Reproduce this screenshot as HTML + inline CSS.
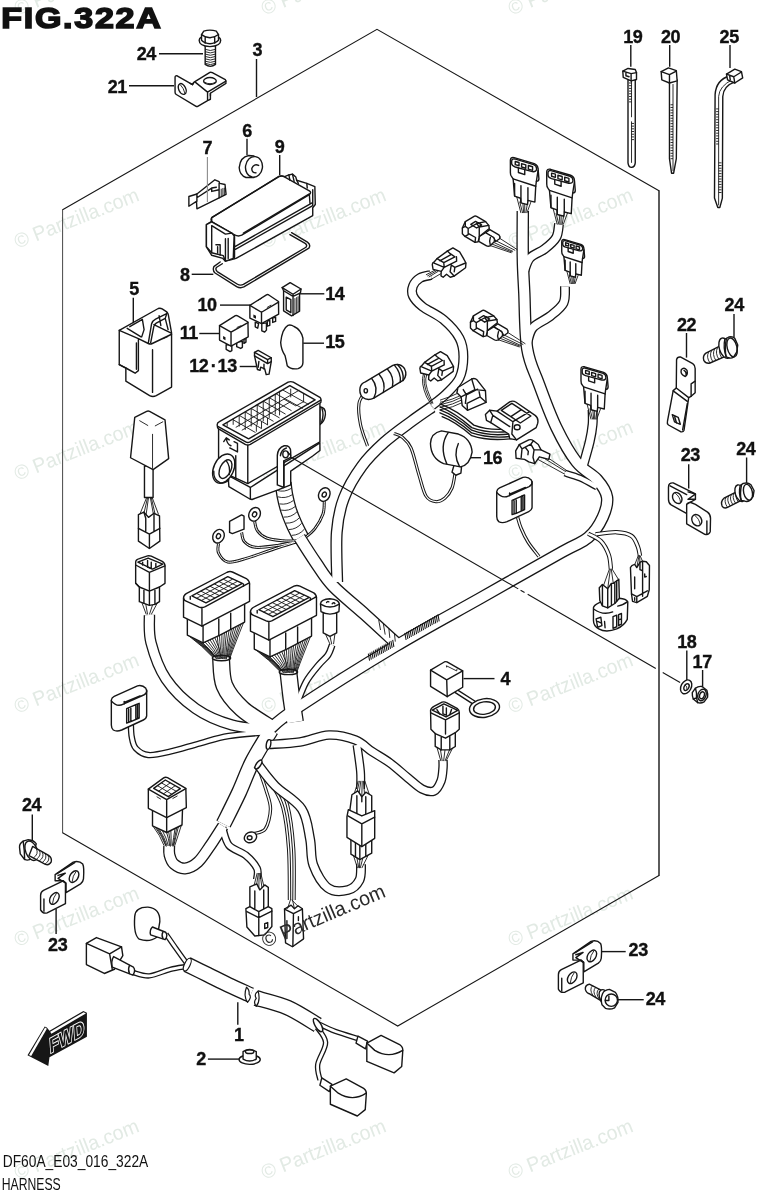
<!DOCTYPE html>
<html lang="en">
<head>
<meta charset="utf-8">
<title>FIG.322A HARNESS</title>
<style>
html,body{margin:0;padding:0;background:#fff;}
body{width:757px;height:1200px;overflow:hidden;position:relative;font-family:"Liberation Sans",sans-serif;}
svg{position:absolute;left:0;top:0;display:block;will-change:transform;}
.l{stroke:#161616;stroke-width:1.4;fill:none;stroke-linecap:butt;}
.t{stroke:#161616;stroke-width:.9;fill:none;}
.p{stroke:#161616;stroke-width:1.4;fill:#fff;stroke-linejoin:round;stroke-linecap:round;}
.o{stroke:#161616;stroke-width:1.4;fill:none;stroke-linejoin:round;stroke-linecap:round;}
.w{stroke:#161616;stroke-width:1.4;fill:none;stroke-linecap:round;stroke-linejoin:round;}
.k{fill:#161616;stroke:none;}
.wo{stroke:#161616;fill:none;stroke-linecap:butt;stroke-linejoin:round;vector-effect:non-scaling-stroke;}
.wi{stroke:#fff;fill:none;stroke-linecap:butt;stroke-linejoin:round;vector-effect:non-scaling-stroke;}
.l,.t,.p,.o,.w{vector-effect:non-scaling-stroke;}
.n{font-family:"Liberation Sans",sans-serif;font-weight:700;font-size:18px;letter-spacing:-.45px;fill:#111;stroke:#111;stroke-width:.35;}
.wm{font-family:"Liberation Sans",sans-serif;font-size:20.3px;fill:#e2eae4;}
.wmd{font-family:"Liberation Sans",sans-serif;font-size:20.3px;fill:#2a2a2a;}
.ft{font-family:"Liberation Sans",sans-serif;font-size:15.6px;fill:#111;}
.fig{font-family:"Liberation Sans",sans-serif;font-weight:700;font-size:29.6px;letter-spacing:1.5px;fill:#111;stroke:#111;stroke-width:1.6;stroke-linejoin:miter;}
</style>
</head>
<body>
<svg width="757" height="1200" viewBox="0 0 757 1200">
<rect x="0" y="0" width="757" height="1200" fill="#fff"/>
<g id="watermarks">
<text class="wm" transform="translate(17.6,15.4) rotate(-21.5)" textLength="132" lengthAdjust="spacingAndGlyphs">© Partzilla.com</text>
<text class="wm" transform="translate(264.6,15.4) rotate(-21.5)" textLength="132" lengthAdjust="spacingAndGlyphs">© Partzilla.com</text>
<text class="wm" transform="translate(511.6,15.4) rotate(-21.5)" textLength="132" lengthAdjust="spacingAndGlyphs">© Partzilla.com</text>
<text class="wm" transform="translate(17.6,248.7) rotate(-21.5)" textLength="132" lengthAdjust="spacingAndGlyphs">© Partzilla.com</text>
<text class="wm" transform="translate(264.6,248.7) rotate(-21.5)" textLength="132" lengthAdjust="spacingAndGlyphs">© Partzilla.com</text>
<text class="wm" transform="translate(511.6,248.7) rotate(-21.5)" textLength="132" lengthAdjust="spacingAndGlyphs">© Partzilla.com</text>
<text class="wm" transform="translate(17.6,480.7) rotate(-21.5)" textLength="132" lengthAdjust="spacingAndGlyphs">© Partzilla.com</text>
<text class="wm" transform="translate(264.6,480.7) rotate(-21.5)" textLength="132" lengthAdjust="spacingAndGlyphs">© Partzilla.com</text>
<text class="wm" transform="translate(511.6,480.7) rotate(-21.5)" textLength="132" lengthAdjust="spacingAndGlyphs">© Partzilla.com</text>
<text class="wm" transform="translate(17.6,713.7) rotate(-21.5)" textLength="132" lengthAdjust="spacingAndGlyphs">© Partzilla.com</text>
<text class="wm" transform="translate(264.6,713.7) rotate(-21.5)" textLength="132" lengthAdjust="spacingAndGlyphs">© Partzilla.com</text>
<text class="wm" transform="translate(511.6,713.7) rotate(-21.5)" textLength="132" lengthAdjust="spacingAndGlyphs">© Partzilla.com</text>
<text class="wm" transform="translate(17.6,947.0) rotate(-21.5)" textLength="132" lengthAdjust="spacingAndGlyphs">© Partzilla.com</text>
<text class="wm" transform="translate(511.6,947.0) rotate(-21.5)" textLength="132" lengthAdjust="spacingAndGlyphs">© Partzilla.com</text>
<text class="wm" transform="translate(17.6,1179.7) rotate(-21.5)" textLength="132" lengthAdjust="spacingAndGlyphs">© Partzilla.com</text>
<text class="wm" transform="translate(264.6,1179.7) rotate(-21.5)" textLength="132" lengthAdjust="spacingAndGlyphs">© Partzilla.com</text>
<text class="wm" transform="translate(511.6,1179.7) rotate(-21.5)" textLength="132" lengthAdjust="spacingAndGlyphs">© Partzilla.com</text>
</g>
<g id="frame">
<path class="l" style="stroke-width:1.1" d="M62.6 209.8 L377 29.3 L659 190.7 M62.6 832.7 L397.7 1026 L659 875.5"/>
<path class="l" style="stroke-width:0.8" d="M62.6 209.3 L62.6 833.2"/>
<path class="l" style="stroke-width:1.4" d="M659 190.2 L659 876"/>
</g>
<g id="bolt24a-bracket21" transform="translate(160,20) scale(0.15852)">
<!-- bolt shaft -->
<path class="p" d="M285 160 L285 280 Q318 305 350 280 L350 160 Z"/>
<path class="t" d="M285 185 Q318 200 350 185 M285 200 Q318 215 350 200 M285 215 Q318 230 350 215 M285 230 Q318 245 350 230 M285 245 Q318 260 350 245 M285 260 Q318 275 350 260 M285 273 Q318 290 350 273"/>
<!-- flange -->
<path class="p" d="M247 128 Q247 165 315 168 Q383 165 383 128 Q383 100 315 98 Q247 100 247 128 Z"/>
<!-- hex head -->
<path class="p" d="M262 92 L276 70 Q315 58 355 70 L369 92 L369 128 Q350 148 315 150 Q280 148 262 128 Z"/>
<path class="o" d="M262 92 Q280 108 315 112 Q350 108 369 92 M285 108 L285 146 M345 108 L345 146"/>
<!-- bracket 21 -->
<path class="p" d="M95 362 Q95 350 108 352 L205 408 L215 392 L315 330 Q322 328 330 332 L412 376 Q417 380 416 400 L318 462 L318 500 L300 508 L238 545 Q232 548 225 543 L103 470 Q95 465 95 455 Z"/>
<path class="o" d="M205 408 L212 395 M222 392 L300 455 L300 505 M300 455 L416 385 M318 462 L318 478 M205 408 L190 400"/>
<ellipse class="o" cx="140" cy="435" rx="22" ry="36" transform="rotate(-25 140 435)"/>
<path class="t" d="M128 408 Q150 430 158 465"/>
<ellipse class="o" cx="315" cy="385" rx="40" ry="22"/>
<path class="t" d="M280 392 Q315 412 352 392"/>
</g>
<g id="p6-7-8-9" transform="translate(180,120) scale(0.21136)">
<!-- gasket 8 -->
<path class="o" d="M528 533 L603 578 Q620 590 610 606 L302 790 Q285 798 268 788 L166 724 Q153 712 160 694 L190 672"/>
<path class="o" d="M520 542 L592 584 Q604 592 596 602 L300 778 Q285 785 272 777 L176 717 Q166 708 172 698 L200 680"/>
<!-- box 9 -->
<path class="p" d="M150 462 L468 268 Q480 262 495 268 L515 260 L532 256 L548 270 L552 285 L600 300 L638 315 L640 400 L628 415 L628 452 L265 655 L240 662 L215 668 L203 655 L150 640 L125 600 L125 495 L150 480 Z"/>
<path class="o" d="M150 462 L470 266 Q480 262 492 268 L612 335 Q624 343 612 353 L292 545 Q275 553 258 543 L152 482 Q143 472 150 462 Z"/>
<path class="o" d="M258 545 L258 600 L625 392 M262 612 L628 405 M612 353 L615 395 M628 330 L628 405 M258 600 L258 655 M300 535 L612 350"/>
<path class="o" d="M515 260 L520 285 M532 256 L540 290 M552 285 L560 300 M600 300 L602 322"/>
<path class="p" d="M125 495 L150 482 L245 535 L256 548 L252 655 L215 668 L205 642 L150 628 L125 600 Z"/>
<path class="o" d="M150 500 L150 628 M215 562 L215 662 M150 500 L215 540 L245 535 M170 590 L190 590 L190 640 M178 600 L178 630 M228 560 L228 655"/>
<!-- grommet 6 -->
<path class="p" d="M325 168 Q285 175 280 225 Q282 262 312 272 L350 272 L350 170 Z"/>
<ellipse class="p" cx="350" cy="222" rx="40" ry="49" transform="rotate(8 350 222)"/>
<path class="o" d="M372 215 Q350 205 340 228 Q338 250 360 250"/>
<!-- clip 7 -->
<path class="p" d="M42 362 L80 350 L165 283 L185 292 L188 300 L213 305 L218 352 L185 368 L80 420 L78 385 L42 408 Z"/>
<path class="o" d="M80 350 L80 385 M80 368 L150 322 L150 338 L185 330 L185 368 M150 322 L172 318 M185 300 L185 330"/>
<path class="t" d="M195 325 L195 362 M203 322 L203 358 M210 320 L210 355"/>
</g>
<g id="p5" transform="translate(110,290) scale(0.1321)">
<path class="p" d="M70 305 L365 140 Q380 134 395 143 L432 168 Q440 175 442 190 L466 325 L466 735 L350 800 Q325 812 300 800 L120 690 L120 590 L70 565 Z"/>
<path class="o" d="M70 305 L215 368 L290 405 Q305 412 320 405 L466 335 M215 368 L215 610 L190 630 L70 565 M200 400 L200 600 M322 452 L322 775 M190 630 L120 590"/>
<path class="o" d="M130 290 L235 355 M150 278 L245 222 L258 300 L240 355 M290 402 L315 255 Q322 232 345 220 L425 180 M308 398 L332 275 Q336 258 350 250 L418 215 L440 300 M332 262 L460 325 M418 215 L432 172 M372 195 L385 270"/>
<path class="t" d="M400 370 L440 352"/>
</g>
<g id="p11" transform="translate(170,280) scale(0.1321)">
<path class="p" d="M425 490 L425 525 L455 542 L468 535 L468 490 Z M505 470 L505 505 L535 518 L548 510 L548 465 Z M560 445 L560 480 L575 470 L575 440 Z"/>
<path class="p" d="M375 345 L495 270 Q503 266 512 272 L590 318 L592 430 L462 500 L375 455 Z"/>
<path class="o" d="M375 345 L462 395 L590 322 M462 395 L462 498"/>
<rect class="k" x="402" y="425" width="18" height="22" transform="skewY(28) translate(0,-215)"/>
<path class="t" d="M505 360 L540 345"/>
</g>
<g id="p10-14-15-1213" transform="translate(240,280) scale(0.14531)">
<path class="p" d="M105 290 L105 322 L122 332 L128 300 Z M150 300 L150 350 L170 358 L182 345 L182 295 Z M188 282 L188 318 L205 312 L205 278 Z M225 262 L225 292 L245 285 L245 255 Z"/>
<path class="p" d="M68 175 L182 102 Q190 98 198 103 L265 148 L266 235 L148 300 L68 262 Z"/>
<path class="o" d="M68 175 L148 222 L265 152 M148 222 L148 298"/>
<path class="k" d="M92 238 L110 246 L110 266 L92 258 Z"/>
<path class="t" d="M125 140 L150 125 M185 190 L215 172"/>
<!-- 14 -->
<path class="p" d="M290 52 L345 18 L420 62 L416 88 L410 92 L410 215 L355 247 L300 212 L300 74 Z"/>
<path class="o" d="M290 52 L365 98 L420 62 M365 98 L365 245 M300 74 L365 112 L410 92 M318 118 L318 205 L350 225 L350 135 Z"/>
<path class="t" d="M378 125 L378 235 M390 118 L390 228 M400 112 L400 220"/>
<!-- 15 -->
<path class="p" d="M330 312 Q290 335 280 430 Q283 480 310 520 Q320 560 325 590 Q350 618 400 610 Q432 600 433 570 L433 400 Q420 342 372 320 Q350 306 330 312 Z"/>
<!-- 12.13 -->
<path class="p" d="M100 498 L125 485 L215 535 L215 562 L200 648 L180 650 L170 612 L142 600 L138 622 L120 616 L100 522 Z"/>
<path class="o" d="M100 498 L190 548 L215 535 M190 548 L190 575 L100 522 M190 575 L215 562 M130 560 L125 600 M165 580 L165 612"/>
</g>
<g id="eyelets">
<path class="wo" style="stroke-width:17" d="M283.2 483.0 C283.5 485.2 284.1 491.5 285.0 496.0 C285.9 500.5 287.0 505.3 288.5 510.0 C290.0 514.7 291.9 519.3 294.0 524.0 C296.1 528.7 299.8 535.7 301.0 538.0"/><path class="wi" style="stroke-width:14.4" d="M283.2 483.0 C283.5 485.2 284.1 491.5 285.0 496.0 C285.9 500.5 287.0 505.3 288.5 510.0 C290.0 514.7 291.9 519.3 294.0 524.0 C296.1 528.7 299.8 535.7 301.0 538.0"/>
<path class="t" d="M291.2 488.4 Q284.5 492.6 277.0 490.4 M292.1 494.8 Q285.4 499.0 277.8 496.8 M293.5 500.4 Q287.3 505.2 279.5 503.9 M295.1 506.6 Q288.9 511.5 281.1 510.1 M297.0 511.8 Q291.4 517.5 283.6 517.1 M299.3 517.9 Q293.8 523.5 285.9 523.1 M301.7 523.2 Q296.6 529.3 288.8 529.6 M304.5 529.0 Q299.5 535.1 291.7 535.4"/>
<path class="wo" style="stroke-width:3" d="M218.5 543.6 C218.5 545.1 217.0 549.7 218.5 552.8 C220.0 555.9 223.1 561.1 227.7 562.0 C232.3 562.9 238.5 560.6 246.2 558.4 C253.9 556.2 265.5 551.8 274.0 549.0 C282.5 546.2 293.2 542.9 297.0 541.7"/>
<path class="wo" style="stroke-width:3" d="M241.6 532.5 C242.1 534.0 242.1 539.2 244.4 541.7 C246.7 544.2 249.9 546.7 255.5 547.3 C261.1 547.9 270.8 546.4 277.7 545.4 C284.6 544.4 293.8 542.1 297.0 541.4"/>
<path class="wo" style="stroke-width:3" d="M254.6 521.4 C255.1 522.9 255.3 527.8 257.3 530.6 C259.3 533.4 262.3 536.3 266.6 538.0 C270.9 539.7 278.1 540.3 283.2 540.8 C288.3 541.3 294.7 540.8 297.0 540.8"/>
<path class="wo" style="stroke-width:3" d="M324.3 501.0 C324.1 503.2 324.6 509.4 323.0 514.0 C321.4 518.6 317.9 524.7 314.7 528.8 C311.5 532.9 305.8 536.9 304.0 538.5"/>
<path class="wi" style="stroke-width:1" d="M218.5 543.6 C218.5 545.1 217.0 549.7 218.5 552.8 C220.0 555.9 223.1 561.1 227.7 562.0 C232.3 562.9 238.5 560.6 246.2 558.4 C253.9 556.2 265.5 551.8 274.0 549.0 C282.5 546.2 293.2 542.9 297.0 541.7"/>
<path class="wi" style="stroke-width:1" d="M241.6 532.5 C242.1 534.0 242.1 539.2 244.4 541.7 C246.7 544.2 249.9 546.7 255.5 547.3 C261.1 547.9 270.8 546.4 277.7 545.4 C284.6 544.4 293.8 542.1 297.0 541.4"/>
<path class="wi" style="stroke-width:1" d="M254.6 521.4 C255.1 522.9 255.3 527.8 257.3 530.6 C259.3 533.4 262.3 536.3 266.6 538.0 C270.9 539.7 278.1 540.3 283.2 540.8 C288.3 541.3 294.7 540.8 297.0 540.8"/>
<path class="wi" style="stroke-width:1" d="M324.3 501.0 C324.1 503.2 324.6 509.4 323.0 514.0 C321.4 518.6 317.9 524.7 314.7 528.8 C311.5 532.9 305.8 536.9 304.0 538.5"/>
<g transform="translate(200,440) scale(0.18494)">
<ellipse class="p" cx="100" cy="520" rx="30" ry="38" transform="rotate(25 100 520)"/>
<ellipse class="o" cx="100" cy="520" rx="11" ry="14" transform="rotate(25 100 520)"/>
<ellipse class="p" cx="295" cy="402" rx="30" ry="38" transform="rotate(25 295 402)"/>
<ellipse class="o" cx="295" cy="402" rx="11" ry="14" transform="rotate(25 295 402)"/>
<ellipse class="p" cx="672" cy="295" rx="30" ry="38" transform="rotate(25 672 295)"/>
<ellipse class="o" cx="672" cy="295" rx="11" ry="14" transform="rotate(25 672 295)"/>
<path class="p" d="M160 440 L225 405 L238 412 L238 482 L175 506 L160 500 Z"/>
<path class="p" d="M535 548 L570 530 L590 560 L552 580 Z" style="stroke-width:1"/>
</g>
</g>
<g id="fusebox" transform="translate(210,375) scale(0.17173)">
<!-- right bulge -->
<path class="p" d="M640 185 Q675 190 672 230 Q668 270 640 290 Z"/>
<path class="o" d="M652 195 Q665 230 650 275"/>
<!-- base -->
<path class="p" d="M105 585 L235 655 L640 395 L640 440 L600 470 L470 560 L470 640 L400 668 L245 725 L232 722 L110 650 Z"/>
<!-- body -->
<path class="p" d="M50 300 L50 515 L105 580 L220 632 L640 390 L640 150 Z"/>
<path class="o" d="M220 405 L220 630 M235 655 L235 720 M105 585 L60 600"/>
<path class="o" d="M150 470 L150 600"/>
<ellipse class="p" cx="80" cy="545" rx="58" ry="90" transform="rotate(25 80 545)"/>
<ellipse class="p" cx="90" cy="548" rx="32" ry="58" transform="rotate(25 90 548)"/>
<path class="o" d="M22 560 Q18 610 60 628 Q90 632 110 610 M95 500 Q120 530 112 580"/>
<!-- rim -->
<path class="p" d="M42 292 Q40 280 55 272 L455 42 Q470 35 485 42 L640 130 Q650 140 645 160 L235 404 Q220 412 205 404 L50 314 Q42 308 42 292 Z"/>
<path class="o" d="M48 300 L208 390 Q220 397 233 390 L645 146"/>
<path class="o" d="M75 290 L465 62 L612 145 L225 372 Z"/>
<!-- grid -->
<path class="t" d="M130 258 L265 335 M170 235 L300 312 M205 215 L335 290 M240 195 L370 270 M275 175 L405 250 M310 152 L440 228 M345 132 L475 208 M385 110 L540 195 M425 88 L575 172 M150 305 L520 88 M185 322 L470 155 M100 275 L100 300 M135 255 L135 290 M170 235 L170 300 M205 215 L205 320 M240 195 L240 300 M275 175 L275 290 M310 152 L310 270 M345 132 L345 250 M380 112 L380 230 M405 92 L405 235 M470 80 L470 130 M545 105 L545 160 M430 140 L500 180 L545 155 M270 290 L270 330 M300 270 L300 312 M335 250 L335 292"/>
<!-- arrow mark -->
<path class="o" d="M80 388 L95 366 L112 378 M95 368 Q98 402 122 412 M115 425 L160 448 L160 398 L140 388"/>
<!-- clip strap -->
<path class="p" d="M392 640 L392 468 Q395 425 432 412 Q470 408 470 448 L470 480 L430 500 L430 655 Z"/>
<path class="o" d="M430 500 L430 650 M410 470 Q415 435 445 425"/>
<ellipse class="p" cx="440" cy="462" rx="16" ry="20"/>
<path class="o" d="M452 450 L470 468"/>
</g>
<g id="harness">
<path class="wo" style="stroke-width:10" d="M431.0 275.0 C429.2 275.5 423.0 276.2 420.0 278.0 C417.0 279.8 414.2 283.0 413.0 286.0 C411.8 289.0 411.4 292.6 413.0 296.0 C414.6 299.4 417.4 302.6 422.5 306.6 C427.6 310.6 437.4 314.5 443.6 319.8 C449.8 325.1 456.2 332.1 459.5 338.3 C462.8 344.5 463.4 350.2 463.4 356.8 C463.4 363.4 462.4 371.8 459.5 378.0 C456.6 384.2 450.8 389.2 446.2 393.8 C441.6 398.4 434.1 403.7 431.7 405.7"/>
<path class="wo" style="stroke-width:10" d="M559.0 224.0 C558.5 226.2 558.6 233.3 556.2 237.5 C553.8 241.7 549.0 245.6 544.6 249.0 C540.2 252.4 533.4 254.2 530.0 258.0 C526.6 261.8 525.0 269.7 524.0 272.0"/>
<path class="wo" style="stroke-width:10" d="M565.0 286.5 C564.8 289.2 565.9 298.1 563.5 303.0 C561.1 307.9 555.5 311.9 550.4 316.0 C545.3 320.1 536.8 323.3 533.0 327.6 C529.2 331.9 528.4 339.6 527.5 342.0"/>
<path class="wo" style="stroke-width:10" d="M592.6 410.0 C592.6 412.4 593.1 419.0 592.6 424.3 C592.1 429.6 591.3 434.8 589.7 441.7 C588.1 448.6 584.1 461.9 583.0 466.0"/>
<path class="wo" style="stroke-width:7" d="M564.7 473.0 C567.2 473.8 574.6 475.7 580.0 478.0 C585.4 480.3 594.2 485.5 597.0 487.0"/>
<path class="wo" style="stroke-width:12.5" d="M522.8 211.0 C522.8 218.8 522.5 244.4 522.8 258.0 C523.0 271.6 523.6 277.6 524.3 292.7 C525.0 307.8 524.8 333.5 527.2 348.7 C529.6 363.9 534.0 370.5 538.8 383.6 C543.6 396.7 549.9 414.1 556.2 427.2 C562.5 440.3 569.8 453.3 576.6 462.0 C583.4 470.7 591.9 473.7 597.0 479.5 C602.1 485.3 606.0 490.7 607.0 497.0 C608.0 503.3 605.8 510.5 602.7 517.3 C599.6 524.1 595.0 531.8 588.2 537.6 C581.4 543.4 580.0 541.9 562.0 552.0 C544.0 562.1 507.8 582.6 480.0 598.4 C452.2 614.1 425.7 628.1 395.0 646.5 C364.3 664.9 316.8 694.9 296.0 708.6 C275.2 722.4 274.3 725.6 270.0 729.0"/>
<path class="wo" style="stroke-width:12" d="M337.2 582.0 C337.1 573.7 335.7 546.0 336.8 532.0 C337.9 518.0 339.8 508.8 344.0 497.8 C348.2 486.8 355.3 475.2 362.0 466.0 C368.7 456.8 376.1 449.8 384.4 442.3 C392.7 434.8 404.1 426.9 412.0 421.0 C419.9 415.1 428.7 409.3 432.0 407.0"/>
<path class="wo" style="stroke-width:13" d="M299.5 537.5 C302.2 541.8 310.4 554.9 316.0 563.0 C321.6 571.1 324.8 577.4 333.0 586.0 C341.2 594.6 354.5 605.0 365.0 614.5 C375.5 624.0 390.8 638.2 396.0 643.0"/>
<path class="wo" style="stroke-width:11.5" d="M149.4 615.0 C149.7 619.6 148.2 631.9 151.0 642.6 C153.8 653.3 158.6 668.0 166.0 679.0 C173.4 690.0 184.7 700.9 195.7 708.6 C206.7 716.3 219.3 721.4 232.0 725.0 C244.7 728.6 265.3 729.2 272.0 730.0"/>
<path class="wo" style="stroke-width:18" d="M221.0 658.0 C221.6 662.6 220.9 677.1 224.4 685.5 C227.9 693.9 234.1 701.4 242.0 708.6 C249.9 715.9 267.0 725.6 272.0 729.0"/>
<path class="wo" style="stroke-width:18" d="M288.4 672.0 C288.9 676.5 290.4 690.4 291.5 698.7 C292.6 707.0 294.4 718.1 295.0 722.0"/>
<path class="wo" style="stroke-width:7" d="M332.2 645.0 C331.5 646.7 330.2 651.7 328.0 655.0 C325.8 658.3 322.4 660.5 318.7 665.0 C315.0 669.5 309.7 675.3 306.0 682.0 C302.3 688.7 298.0 701.2 296.4 705.0"/>
<path class="wo" style="stroke-width:6.4" d="M130.8 723.0 C131.0 725.3 130.9 732.5 131.7 736.7 C132.5 740.9 133.0 745.2 135.8 748.3 C138.6 751.3 142.6 754.4 148.3 755.0 C154.0 755.6 161.4 753.7 170.0 751.7 C178.6 749.8 190.2 745.9 200.0 743.3 C209.8 740.7 216.9 737.9 228.7 736.0 C240.5 734.1 263.9 732.7 271.0 732.0"/>
<path class="wo" style="stroke-width:16" d="M271.0 730.0 C267.9 735.3 257.5 751.6 252.2 762.0 C246.9 772.4 243.8 782.2 239.0 792.5 C234.2 802.8 226.1 818.8 223.5 824.0"/>
<path class="wo" style="stroke-width:12" d="M223.0 826.0 C220.8 829.3 214.2 840.0 210.0 846.0 C205.8 852.0 202.2 858.2 198.0 862.0 C193.8 865.8 189.0 868.2 185.0 868.5 C181.0 868.8 176.6 866.2 174.0 864.0 C171.4 861.8 170.3 858.0 169.5 855.0 C168.7 852.0 169.2 847.5 169.2 846.0"/>
<path class="wo" style="stroke-width:8" d="M222.5 828.0 C223.6 830.9 225.2 840.8 229.0 845.3 C232.8 849.8 240.9 851.4 245.6 855.2 C250.3 859.1 255.1 864.4 257.0 868.4 C258.9 872.4 257.0 877.2 257.0 879.0"/>
<path class="wi" style="stroke-width:7.4" d="M431.0 275.0 C429.2 275.5 423.0 276.2 420.0 278.0 C417.0 279.8 414.2 283.0 413.0 286.0 C411.8 289.0 411.4 292.6 413.0 296.0 C414.6 299.4 417.4 302.6 422.5 306.6 C427.6 310.6 437.4 314.5 443.6 319.8 C449.8 325.1 456.2 332.1 459.5 338.3 C462.8 344.5 463.4 350.2 463.4 356.8 C463.4 363.4 462.4 371.8 459.5 378.0 C456.6 384.2 450.8 389.2 446.2 393.8 C441.6 398.4 434.1 403.7 431.7 405.7"/>
<path class="wi" style="stroke-width:7.4" d="M559.0 224.0 C558.5 226.2 558.6 233.3 556.2 237.5 C553.8 241.7 549.0 245.6 544.6 249.0 C540.2 252.4 533.4 254.2 530.0 258.0 C526.6 261.8 525.0 269.7 524.0 272.0"/>
<path class="wi" style="stroke-width:7.4" d="M565.0 286.5 C564.8 289.2 565.9 298.1 563.5 303.0 C561.1 307.9 555.5 311.9 550.4 316.0 C545.3 320.1 536.8 323.3 533.0 327.6 C529.2 331.9 528.4 339.6 527.5 342.0"/>
<path class="wi" style="stroke-width:7.4" d="M592.6 410.0 C592.6 412.4 593.1 419.0 592.6 424.3 C592.1 429.6 591.3 434.8 589.7 441.7 C588.1 448.6 584.1 461.9 583.0 466.0"/>
<path class="wi" style="stroke-width:4.4" d="M564.7 473.0 C567.2 473.8 574.6 475.7 580.0 478.0 C585.4 480.3 594.2 485.5 597.0 487.0"/>
<path class="wi" style="stroke-width:9.9" d="M522.8 211.0 C522.8 218.8 522.5 244.4 522.8 258.0 C523.0 271.6 523.6 277.6 524.3 292.7 C525.0 307.8 524.8 333.5 527.2 348.7 C529.6 363.9 534.0 370.5 538.8 383.6 C543.6 396.7 549.9 414.1 556.2 427.2 C562.5 440.3 569.8 453.3 576.6 462.0 C583.4 470.7 591.9 473.7 597.0 479.5 C602.1 485.3 606.0 490.7 607.0 497.0 C608.0 503.3 605.8 510.5 602.7 517.3 C599.6 524.1 595.0 531.8 588.2 537.6 C581.4 543.4 580.0 541.9 562.0 552.0 C544.0 562.1 507.8 582.6 480.0 598.4 C452.2 614.1 425.7 628.1 395.0 646.5 C364.3 664.9 316.8 694.9 296.0 708.6 C275.2 722.4 274.3 725.6 270.0 729.0"/>
<path class="wi" style="stroke-width:9.4" d="M337.2 582.0 C337.1 573.7 335.7 546.0 336.8 532.0 C337.9 518.0 339.8 508.8 344.0 497.8 C348.2 486.8 355.3 475.2 362.0 466.0 C368.7 456.8 376.1 449.8 384.4 442.3 C392.7 434.8 404.1 426.9 412.0 421.0 C419.9 415.1 428.7 409.3 432.0 407.0"/>
<path class="wi" style="stroke-width:10.4" d="M299.5 537.5 C302.2 541.8 310.4 554.9 316.0 563.0 C321.6 571.1 324.8 577.4 333.0 586.0 C341.2 594.6 354.5 605.0 365.0 614.5 C375.5 624.0 390.8 638.2 396.0 643.0"/>
<path class="wi" style="stroke-width:8.9" d="M149.4 615.0 C149.7 619.6 148.2 631.9 151.0 642.6 C153.8 653.3 158.6 668.0 166.0 679.0 C173.4 690.0 184.7 700.9 195.7 708.6 C206.7 716.3 219.3 721.4 232.0 725.0 C244.7 728.6 265.3 729.2 272.0 730.0"/>
<path class="wi" style="stroke-width:15.4" d="M221.0 658.0 C221.6 662.6 220.9 677.1 224.4 685.5 C227.9 693.9 234.1 701.4 242.0 708.6 C249.9 715.9 267.0 725.6 272.0 729.0"/>
<path class="wi" style="stroke-width:15.4" d="M288.4 672.0 C288.9 676.5 290.4 690.4 291.5 698.7 C292.6 707.0 294.4 718.1 295.0 722.0"/>
<path class="wi" style="stroke-width:4.4" d="M332.2 645.0 C331.5 646.7 330.2 651.7 328.0 655.0 C325.8 658.3 322.4 660.5 318.7 665.0 C315.0 669.5 309.7 675.3 306.0 682.0 C302.3 688.7 298.0 701.2 296.4 705.0"/>
<path class="wi" style="stroke-width:3.8" d="M130.8 723.0 C131.0 725.3 130.9 732.5 131.7 736.7 C132.5 740.9 133.0 745.2 135.8 748.3 C138.6 751.3 142.6 754.4 148.3 755.0 C154.0 755.6 161.4 753.7 170.0 751.7 C178.6 749.8 190.2 745.9 200.0 743.3 C209.8 740.7 216.9 737.9 228.7 736.0 C240.5 734.1 263.9 732.7 271.0 732.0"/>
<path class="wi" style="stroke-width:13.4" d="M271.0 730.0 C267.9 735.3 257.5 751.6 252.2 762.0 C246.9 772.4 243.8 782.2 239.0 792.5 C234.2 802.8 226.1 818.8 223.5 824.0"/>
<path class="wi" style="stroke-width:9.4" d="M223.0 826.0 C220.8 829.3 214.2 840.0 210.0 846.0 C205.8 852.0 202.2 858.2 198.0 862.0 C193.8 865.8 189.0 868.2 185.0 868.5 C181.0 868.8 176.6 866.2 174.0 864.0 C171.4 861.8 170.3 858.0 169.5 855.0 C168.7 852.0 169.2 847.5 169.2 846.0"/>
<path class="wi" style="stroke-width:5.4" d="M222.5 828.0 C223.6 830.9 225.2 840.8 229.0 845.3 C232.8 849.8 240.9 851.4 245.6 855.2 C250.3 859.1 255.1 864.4 257.0 868.4 C258.9 872.4 257.0 877.2 257.0 879.0"/>
<path class="wo" style="stroke-width:3.4" d="M258.5 768.0 C259.8 771.7 264.0 783.2 266.0 790.0 C268.0 796.8 270.6 802.5 270.5 809.0 C270.4 815.5 268.1 824.7 265.4 828.8 C262.6 832.9 255.9 832.9 254.0 833.7"/>
<path class="wo" style="stroke-width:3.4" d="M260.0 768.0 C262.0 770.8 268.2 778.3 272.0 785.0 C275.8 791.7 280.2 797.4 283.0 808.0 C285.8 818.6 287.5 833.3 288.6 848.6 C289.7 863.9 289.4 891.4 289.5 900.0"/>
<path class="wo" style="stroke-width:3.4" d="M262.0 767.0 C264.3 769.7 271.8 776.7 276.0 783.0 C280.2 789.3 284.6 794.1 287.5 805.0 C290.4 815.9 292.5 832.8 293.6 848.6 C294.7 864.4 293.9 891.4 294.0 900.0"/>
<path class="wi" style="stroke-width:1.4" d="M258.5 768.0 C259.8 771.7 264.0 783.2 266.0 790.0 C268.0 796.8 270.6 802.5 270.5 809.0 C270.4 815.5 268.1 824.7 265.4 828.8 C262.6 832.9 255.9 832.9 254.0 833.7"/>
<path class="wi" style="stroke-width:1.4" d="M260.0 768.0 C262.0 770.8 268.2 778.3 272.0 785.0 C275.8 791.7 280.2 797.4 283.0 808.0 C285.8 818.6 287.5 833.3 288.6 848.6 C289.7 863.9 289.4 891.4 289.5 900.0"/>
<path class="wi" style="stroke-width:1.4" d="M262.0 767.0 C264.3 769.7 271.8 776.7 276.0 783.0 C280.2 789.3 284.6 794.1 287.5 805.0 C290.4 815.9 292.5 832.8 293.6 848.6 C294.7 864.4 293.9 891.4 294.0 900.0"/>
<path class="wo" style="stroke-width:10" d="M257.5 764.0 C260.5 767.7 267.9 778.5 275.3 786.0 C282.7 793.5 295.9 800.2 301.7 809.0 C307.5 817.8 308.1 829.4 310.0 838.7 C311.9 848.0 310.3 856.8 313.3 865.0 C316.3 873.2 322.2 883.8 328.0 888.0 C333.8 892.2 342.8 891.3 348.0 890.0 C353.2 888.7 357.3 884.3 359.5 880.0 C361.7 875.7 360.8 866.7 361.0 864.0"/>
<path class="wi" style="stroke-width:7.4" d="M257.5 764.0 C260.5 767.7 267.9 778.5 275.3 786.0 C282.7 793.5 295.9 800.2 301.7 809.0 C307.5 817.8 308.1 829.4 310.0 838.7 C311.9 848.0 310.3 856.8 313.3 865.0 C316.3 873.2 322.2 883.8 328.0 888.0 C333.8 892.2 342.8 891.3 348.0 890.0 C353.2 888.7 357.3 884.3 359.5 880.0 C361.7 875.7 360.8 866.7 361.0 864.0"/>
<ellipse class="p" cx="258.5" cy="764.5" rx="2.2" ry="5.2" transform="rotate(35 258.5 764.5)"/>
<path class="wo" style="stroke-width:9.5" d="M269.0 744.5 C274.2 744.1 290.0 743.6 300.0 742.0 C310.0 740.4 319.8 735.3 329.0 735.0 C338.2 734.7 348.3 737.2 355.5 740.0 C362.7 742.8 366.2 747.7 372.0 751.5 C377.8 755.3 384.0 758.6 390.0 763.0 C396.0 767.4 402.7 773.7 408.0 778.0 C413.3 782.3 417.7 786.8 422.0 789.0 C426.3 791.2 430.8 792.3 434.0 791.0 C437.2 789.7 439.5 784.8 441.0 781.0 C442.5 777.2 442.7 771.5 443.0 768.0 C443.3 764.5 443.0 761.3 443.0 760.0"/>
<path class="wo" style="stroke-width:9" d="M357.0 745.0 C357.6 749.4 359.9 764.1 360.5 771.4 C361.1 778.7 360.5 786.1 360.5 789.0"/>
<path class="wi" style="stroke-width:6.9" d="M269.0 744.5 C274.2 744.1 290.0 743.6 300.0 742.0 C310.0 740.4 319.8 735.3 329.0 735.0 C338.2 734.7 348.3 737.2 355.5 740.0 C362.7 742.8 366.2 747.7 372.0 751.5 C377.8 755.3 384.0 758.6 390.0 763.0 C396.0 767.4 402.7 773.7 408.0 778.0 C413.3 782.3 417.7 786.8 422.0 789.0 C426.3 791.2 430.8 792.3 434.0 791.0 C437.2 789.7 439.5 784.8 441.0 781.0 C442.5 777.2 442.7 771.5 443.0 768.0 C443.3 764.5 443.0 761.3 443.0 760.0"/>
<path class="wi" style="stroke-width:6.4" d="M357.0 745.0 C357.6 749.4 359.9 764.1 360.5 771.4 C361.1 778.7 360.5 786.1 360.5 789.0"/>
<ellipse class="p" cx="268.5" cy="744.5" rx="2.2" ry="4.9" transform="rotate(10 268.5 744.5)"/>
<path class="wo" style="stroke-width:3.2" d="M365.4 391.8 C364.3 393.7 359.8 397.9 359.0 403.4 C358.2 408.8 359.1 417.4 360.5 424.5 C361.9 431.6 366.3 442.4 367.5 446.0"/>
<path class="wo" style="stroke-width:3.2" d="M455.0 474.0 C454.5 476.3 453.7 484.0 452.0 488.0 C450.3 492.0 447.7 495.7 445.0 498.0 C442.3 500.3 439.1 502.0 435.9 501.7 C432.7 501.4 428.8 500.4 426.0 496.0 C423.2 491.6 421.5 483.0 419.0 475.0 C416.5 467.0 413.8 454.3 411.0 448.0 C408.2 441.7 404.8 439.4 402.0 437.0 C399.2 434.6 395.3 434.1 394.0 433.5"/>
<path class="wo" style="stroke-width:3.4" d="M517.7 517.6 C518.2 519.3 519.3 523.9 521.0 528.0 C522.7 532.1 525.0 537.2 528.0 542.0 C531.0 546.8 537.2 554.1 539.0 556.5"/>
<path class="wi" style="stroke-width:1.2" d="M365.4 391.8 C364.3 393.7 359.8 397.9 359.0 403.4 C358.2 408.8 359.1 417.4 360.5 424.5 C361.9 431.6 366.3 442.4 367.5 446.0"/>
<path class="wi" style="stroke-width:1.2" d="M455.0 474.0 C454.5 476.3 453.7 484.0 452.0 488.0 C450.3 492.0 447.7 495.7 445.0 498.0 C442.3 500.3 439.1 502.0 435.9 501.7 C432.7 501.4 428.8 500.4 426.0 496.0 C423.2 491.6 421.5 483.0 419.0 475.0 C416.5 467.0 413.8 454.3 411.0 448.0 C408.2 441.7 404.8 439.4 402.0 437.0 C399.2 434.6 395.3 434.1 394.0 433.5"/>
<path class="wi" style="stroke-width:1.4" d="M517.7 517.6 C518.2 519.3 519.3 523.9 521.0 528.0 C522.7 532.1 525.0 537.2 528.0 542.0 C531.0 546.8 537.2 554.1 539.0 556.5"/>
<path class="wo" style="stroke-width:4.4" d="M588.2 533.7 C590.3 534.9 597.5 537.6 600.9 541.1 C604.3 544.6 607.1 550.2 608.8 554.9 C610.5 559.5 610.5 566.6 610.9 569.0"/>
<path class="wo" style="stroke-width:4.4" d="M595.6 534.3 C599.1 533.9 610.7 531.9 616.7 532.2 C622.7 532.5 628.0 533.5 631.5 535.9 C635.0 538.3 636.4 543.0 637.8 546.4 C639.2 549.8 639.6 554.4 640.0 556.0"/>
<path class="wi" style="stroke-width:2.4" d="M588.2 533.7 C590.3 534.9 597.5 537.6 600.9 541.1 C604.3 544.6 607.1 550.2 608.8 554.9 C610.5 559.5 610.5 566.6 610.9 569.0"/>
<path class="wi" style="stroke-width:2.4" d="M595.6 534.3 C599.1 533.9 610.7 531.9 616.7 532.2 C622.7 532.5 628.0 533.5 631.5 535.9 C635.0 538.3 636.4 543.0 637.8 546.4 C639.2 549.8 639.6 554.4 640.0 556.0"/>
</g>
<g id="conn-right-top">
<g transform="translate(455,145) scale(0.21136) ">
<path class="t" d="M292 245 L312 322 M306 268 L320 322 M330 272 L330 322 M362 262 L340 322 M320 262 L325 322 M345 262 L335 322"/>
<path class="p" d="M262 72 Q262 56 280 60 L375 88 Q392 95 393 112 L397 160 Q397 172 385 172 L382 195 L378 270 L345 262 L343 282 L312 274 L310 252 L282 242 L275 160 L268 150 Q262 145 262 130 Z"/>
<path class="o" d="M268 78 Q268 64 282 66 L372 93 Q386 98 386 112 Q386 128 366 126 L285 104 Q268 98 268 88 Z M275 160 L382 195 M282 182 L282 240 M312 192 L312 272 M345 202 L345 262"/>
<path class="o" d="M285 78 L303 83 L303 98 L285 93 Z M315 88 L335 94 L335 110 L315 104 Z M347 97 L367 103 L367 120 L347 114 Z M300 108 L300 130 L330 140 L330 118 M385 172 L393 120"/>
</g>
<g transform="translate(491.35392,156.6248) scale(0.21136) ">
<path class="t" d="M292 245 L312 322 M306 268 L320 322 M330 272 L330 322 M362 262 L340 322 M320 262 L325 322 M345 262 L335 322"/>
<path class="p" d="M262 72 Q262 56 280 60 L375 88 Q392 95 393 112 L397 160 Q397 172 385 172 L382 195 L378 270 L345 262 L343 282 L312 274 L310 252 L282 242 L275 160 L268 150 Q262 145 262 130 Z"/>
<path class="o" d="M268 78 Q268 64 282 66 L372 93 Q386 98 386 112 Q386 128 366 126 L285 104 Q268 98 268 88 Z M275 160 L382 195 M282 182 L282 240 M312 192 L312 272 M345 202 L345 262"/>
<path class="o" d="M285 78 L303 83 L303 98 L285 93 Z M315 88 L335 94 L335 110 L315 104 Z M347 97 L367 103 L367 120 L347 114 Z M300 108 L300 130 L330 140 L330 118 M385 172 L393 120"/>
</g>
<g transform="translate(517.435744,229.54399999999998) scale(0.16908800000000002) ">
<path class="t" d="M292 245 L312 322 M306 268 L320 322 M330 272 L330 322 M362 262 L340 322 M320 262 L325 322 M345 262 L335 322"/>
<path class="p" d="M262 72 Q262 56 280 60 L375 88 Q392 95 393 112 L397 160 Q397 172 385 172 L382 195 L378 270 L345 262 L343 282 L312 274 L310 252 L282 242 L275 160 L268 150 Q262 145 262 130 Z"/>
<path class="o" d="M268 78 Q268 64 282 66 L372 93 Q386 98 386 112 Q386 128 366 126 L285 104 Q268 98 268 88 Z M275 160 L382 195 M282 182 L282 240 M312 192 L312 272 M345 202 L345 262"/>
<path class="o" d="M285 78 L303 83 L303 98 L285 93 Z M315 88 L335 94 L335 110 L315 104 Z M347 97 L367 103 L367 120 L347 114 Z M300 108 L300 130 L330 140 L330 118 M385 172 L393 120"/>
</g>
<g transform="translate(453.9,205.8) scale(0.10568) ">
<path class="t" d="M340 375 L545 445 M380 348 L560 432 M400 332 L580 422 M430 305 L600 415 M360 362 L552 438"/>
<path class="p" d="M300 255 L340 225 L425 275 Q442 292 432 312 L395 338 L375 300 Z"/>
<path class="p" d="M240 290 L300 255 L375 300 Q392 318 380 342 L345 376 Q325 388 305 376 L235 336 Z"/>
<path class="o" d="M345 300 Q330 335 345 376"/>
<path class="p" d="M108 150 L195 98 Q205 94 215 100 L300 150 L330 185 L335 215 L240 290 L230 340 L200 346 L105 290 L80 265 L80 210 Z"/>
<path class="o" d="M108 150 L108 195 L80 210 M108 195 L135 215 L135 272 L105 290 M135 215 L215 168 L300 150 M160 175 L205 148 L262 180 L215 210 Z M215 168 L240 200 L240 290 M240 200 L330 185 M200 346 L205 300 L135 262"/>
</g>
<g transform="translate(462,300) scale(0.10568) ">
<path class="t" d="M340 375 L545 445 M380 348 L560 432 M400 332 L580 422 M430 305 L600 415 M360 362 L552 438"/>
<path class="p" d="M300 255 L340 225 L425 275 Q442 292 432 312 L395 338 L375 300 Z"/>
<path class="p" d="M240 290 L300 255 L375 300 Q392 318 380 342 L345 376 Q325 388 305 376 L235 336 Z"/>
<path class="o" d="M345 300 Q330 335 345 376"/>
<path class="p" d="M108 150 L195 98 Q205 94 215 100 L300 150 L330 185 L335 215 L240 290 L230 340 L200 346 L105 290 L80 265 L80 210 Z"/>
<path class="o" d="M108 150 L108 195 L80 210 M108 195 L135 215 L135 272 L105 290 M135 215 L215 168 L300 150 M160 175 L205 148 L262 180 L215 210 Z M215 168 L240 200 L240 290 M240 200 L330 185 M200 346 L205 300 L135 262"/>
</g>
</g>
<g id="block-conn" transform="translate(110,400) scale(0.18333)">
<path class="p" d="M188 360 L188 532 L235 532 L235 360 Z"/>
<path class="p" d="M135 95 L200 62 Q208 58 216 62 L300 108 L320 320 L235 380 L112 315 Z"/>
<path class="t" d="M232 185 L232 375 M160 112 L208 140 M245 142 L290 118"/>
<path class="t" d="M200 532 L160 630 M210 532 L195 640 M220 532 L240 640 M230 532 L265 625 M205 532 L180 640 M225 532 L250 640"/>
<path class="p" d="M155 625 L185 612 L210 640 L240 618 L270 632 L272 770 L215 810 L155 770 Z"/>
<path class="o" d="M155 700 L215 732 L272 700 M215 732 L215 808 M195 645 L195 720 M240 640 L240 718 M185 612 L195 645 M240 618 L240 640"/>
<path class="t" d="M172 1100 L198 1170 M195 1112 L205 1170 M232 1118 L215 1170 M262 1100 L225 1170"/>
<path class="p" d="M140 885 Q140 870 160 865 L205 850 Q215 848 225 852 L285 880 Q300 888 300 905 L300 1000 L270 1020 L270 1100 L245 1115 L215 1120 L160 1100 L160 1020 L140 1000 Z"/>
<path class="o" d="M152 884 L208 862 L288 895 L232 922 Z M140 1000 L160 1020 L215 1042 L270 1020 M215 940 L215 1118 M140 900 L215 940 L300 905 M185 1030 L185 1108 M245 1030 L245 1112"/>
<path class="o" d="M205 875 L205 912 L225 920 L225 885 M178 885 L178 900 M250 892 L250 912"/>
</g>
<g id="bigconn">
<g transform="translate(175.00,570.00) scale(0.22457)">
<path class="t" d="M60 292 Q124 340 168 388 M71 298 Q131 343 171 388 M81 303 Q138 346 175 388 M92 309 Q145 348 178 388 M102 314 Q152 351 182 388 M113 320 Q159 358 185 396 M124 325 Q166 361 188 396 M134 321 Q173 359 192 396 M145 316 Q180 356 195 396 M156 311 Q187 353 199 396 M166 305 Q194 351 202 396 M177 300 Q201 348 205 396 M188 294 Q193 355 209 396 M198 289 Q200 352 212 396 M209 284 Q207 350 215 396 M220 278 Q214 347 219 396 M230 273 Q221 344 222 396 M241 267 Q228 342 226 396 M252 262 Q235 339 229 396 M262 257 Q242 332 232 388 M273 251 Q249 330 236 388 M284 246 Q256 327 239 388 M294 240 Q263 324 243 388 M305 235 Q270 322 246 388"/>
<ellipse class="o" cx="207" cy="392" rx="41" ry="12"/>
<path class="p" d="M55 215 L55 290 L125 325 L200 290 L310 232 L310 150 Z"/>
<path class="o" d="M195 218 L195 292 M248 192 L248 264 M125 250 L125 325"/>
<path class="p" d="M38 125 Q38 112 50 105 L232 10 Q245 4 258 10 L320 40 Q332 48 332 62 L332 140 L120 250 L38 210 Z"/>
<path class="o" d="M38 125 Q40 135 52 140 L108 165 Q120 170 135 163 L322 62 Q332 55 332 62 M120 168 L120 250"/>
<path class="o" d="M75 115 L235 30 L300 60 L138 146 Z M68 118 L68 130 M305 62 L305 72"/>
<path class="t" d="M95 104 L158 135 M115 94 L178 125 M135 83 L198 114 M155 72 L218 103 M175 62 L238 93 M195 51 L258 82 M215 41 L278 72 M96 126 L256 41 M117 136 L277 51"/>
</g>
<g transform="translate(241.92,583.92) scale(0.22457)">
<path class="t" d="M60 292 Q124 340 168 388 M71 298 Q131 343 171 388 M81 303 Q138 346 175 388 M92 309 Q145 348 178 388 M102 314 Q152 351 182 388 M113 320 Q159 358 185 396 M124 325 Q166 361 188 396 M134 321 Q173 359 192 396 M145 316 Q180 356 195 396 M156 311 Q187 353 199 396 M166 305 Q194 351 202 396 M177 300 Q201 348 205 396 M188 294 Q193 355 209 396 M198 289 Q200 352 212 396 M209 284 Q207 350 215 396 M220 278 Q214 347 219 396 M230 273 Q221 344 222 396 M241 267 Q228 342 226 396 M252 262 Q235 339 229 396 M262 257 Q242 332 232 388 M273 251 Q249 330 236 388 M284 246 Q256 327 239 388 M294 240 Q263 324 243 388 M305 235 Q270 322 246 388"/>
<ellipse class="o" cx="207" cy="392" rx="41" ry="12"/>
<path class="p" d="M55 215 L55 290 L125 325 L200 290 L310 232 L310 150 Z"/>
<path class="o" d="M195 218 L195 292 M248 192 L248 264 M125 250 L125 325"/>
<path class="p" d="M38 125 Q38 112 50 105 L232 10 Q245 4 258 10 L320 40 Q332 48 332 62 L332 140 L120 250 L38 210 Z"/>
<path class="o" d="M38 125 Q40 135 52 140 L108 165 Q120 170 135 163 L322 62 Q332 55 332 62 M120 168 L120 250"/>
<path class="o" d="M75 115 L235 30 L300 60 L138 146 Z M68 118 L68 130 M305 62 L305 72"/>
<path class="t" d="M95 104 L158 135 M115 94 L178 125 M135 83 L198 114 M155 72 L218 103 M175 62 L238 93 M195 51 L258 82 M215 41 L278 72 M96 126 L256 41 M117 136 L277 51"/>
</g>
<g transform="translate(175.00,570.00) scale(0.22457)">
<path class="t" d="M670 285 L690 330 M690 295 L698 330 M712 285 L706 330"/>
<path class="p" d="M660 185 L660 280 L690 296 L720 280 L720 185 Z"/>
<path class="p" d="M648 150 Q650 130 690 128 Q730 132 732 152 L730 185 Q690 208 650 185 Z"/>
<path class="o" d="M648 152 Q690 178 732 152 M675 145 Q678 138 685 142 M700 150 Q708 142 712 150"/>
</g>
</g>
<g id="flat-sq" transform="translate(100,680) scale(0.16667)">
<path class="p" d="M68 120 Q70 105 85 98 L225 35 Q255 28 275 50 Q282 60 280 85 L280 215 Q278 232 260 240 L130 300 Q100 312 80 300 Q68 290 68 270 Z"/>
<path class="o" d="M68 125 Q100 165 140 145 L262 90 Q282 80 280 60 M145 135 L240 95 M145 128 L145 145"/>
<path class="o" d="M160 172 L215 148 L235 140 L235 228 L185 250 L160 258 Z M172 175 L172 250 M185 170 L185 250 M215 150 L215 235 M225 148 L225 230"/>
<!-- square 9-pin -->
<path class="t" d="M320 880 Q360 930 385 995 M335 888 Q372 935 395 995 M355 896 Q385 940 403 995 M375 905 Q398 945 410 995 M400 915 Q412 950 418 995 M425 903 Q428 950 426 995 M450 892 Q442 945 434 995 M470 882 Q455 940 442 995 M488 872 Q468 935 448 995 M345 892 Q380 938 398 1000 M412 910 Q420 950 422 1000 M460 888 Q448 945 438 1000"/>
<path class="p" d="M315 775 L315 875 L400 915 L492 870 L495 775 Z"/>
<path class="p" d="M290 655 L382 587 Q393 580 405 586 L515 650 L518 765 L400 825 L290 770 Z"/>
<path class="o" d="M290 655 L400 718 L515 652 M400 718 L400 823 M400 825 L400 915 M322 650 L392 600 L482 652 L410 700 Z"/>
<path class="t" d="M345 634 L432 686 M368 617 L458 668 M350 668 L420 618 M378 685 L450 635"/>
<path class="t" d="M340 700 L365 715 M435 712 L465 695"/>
</g>
<g id="lowconn" transform="translate(235,770) scale(0.19815)">
<!-- mated pair right -->
<path class="t" d="M622 55 L600 125 M635 55 L625 130 M648 55 L655 135 M655 55 L680 130 M628 55 L612 128 M642 55 L640 132"/>
<path class="p" d="M590 125 L620 105 L640 135 L660 112 L690 130 L690 245 L640 272 L575 238 Z"/>
<path class="o" d="M615 130 L615 225 M660 135 L660 240 M640 135 L640 160"/>
<path class="p" d="M585 345 L585 425 L630 452 L690 420 L690 340 Z"/>
<path class="t" d="M598 432 L618 495 M615 442 L625 495 M645 445 L632 495 M672 430 L640 495 M630 452 L628 495"/>
<path class="o" d="M630 380 L630 450 M608 365 L608 438 M660 365 L660 435"/>
<path class="p" d="M565 235 L572 200 L640 232 L705 205 L705 345 L640 387 L565 340 Z"/>
<path class="o" d="M570 232 L640 272 L705 238 M640 272 L640 385"/>
<!-- connector bottom-left -->
<path class="t" d="M112 520 L92 600 M122 520 L120 610 M130 520 L150 605 M118 520 L105 605 M126 520 L138 608"/>
<path class="p" d="M75 590 L110 575 L125 605 L150 580 L168 592 L168 690 L186 700 L186 790 L150 832 L100 838 L60 792 L55 700 L75 690 Z"/>
<path class="o" d="M75 690 L120 715 L168 690 M120 715 L120 835 M100 610 L100 700 M145 605 L145 700 M60 715 L120 745 L186 712 M150 775 L165 770 L165 795 L150 800 Z"/>
<!-- small connector -->
<path class="p" d="M250 702 L283 682 L300 700 L318 685 L340 700 L346 852 L290 892 L255 872 Z"/>
<path class="o" d="M250 702 L295 725 L340 702 M295 725 L292 890 M262 760 L262 850 M320 740 L320 760"/>
<path class="t" d="M280 655 L265 700 M290 655 L300 700 M286 655 L320 690"/>
<!-- eyelet -->
<ellipse class="p" cx="78" cy="340" rx="32" ry="26" transform="rotate(-25 78 340)"/>
<ellipse class="o" cx="74" cy="342" rx="12" ry="10"/>
</g>
<g id="p4-conn" transform="translate(400,640) scale(0.17173)">
<!-- ring + strap -->
<path class="p" d="M325 285 L440 358 L428 375 L315 302 Z"/>
<ellipse class="p" cx="492" cy="396" rx="88" ry="54" transform="rotate(-8 492 396)"/>
<ellipse class="p" cx="492" cy="396" rx="64" ry="36" transform="rotate(-8 492 396)"/>
<!-- relay cube -->
<path class="p" d="M178 175 L258 128 Q266 124 274 128 L365 180 L365 275 L275 330 L178 270 Z"/>
<path class="o" d="M178 175 L272 232 L365 180 M272 232 L275 330"/>
<path class="t" d="M270 150 L330 180 L332 168 M270 150 L272 160"/>
<!-- connector -->
<path class="t" d="M215 625 L238 705 M235 635 L246 705 M262 640 L254 705 M290 635 L262 705 M310 622 L268 705"/>
<path class="p" d="M178 410 Q180 395 200 385 L245 362 Q258 358 270 365 L335 400 Q345 408 345 420 L345 520 L322 540 L322 620 L290 640 L240 640 L205 620 L205 545 L180 520 Z"/>
<path class="o" d="M188 408 L255 372 L336 410 L268 448 Z M180 425 L265 465 L345 425 M265 465 L265 548 M205 545 L265 572 L322 540 M240 565 L240 640 M290 560 L290 640"/>
<path class="o" d="M250 385 L250 430 L270 438 L270 395 M215 405 L232 432 M300 405 L290 435"/>
</g>
<g id="center1" transform="translate(340,340) scale(0.21136)">
<!-- barrel sensor -->
<path class="p" d="M95 225 Q100 205 120 198 L250 120 Q285 108 305 135 Q320 165 300 190 L160 275 Q130 290 105 270 Q90 250 95 225 Z"/>
<path class="o" d="M150 182 Q185 225 160 275 M185 162 Q218 200 205 248 M225 138 Q258 175 248 222 M258 120 Q290 155 285 200 M272 116 Q305 150 298 192"/>
<ellipse class="o" cx="122" cy="240" rx="8" ry="10"/>
<!-- H connector (440,365) -->
<path class="t" d="M395 160 Q380 200 410 270 L432 305 M410 165 Q396 200 425 265 L440 300 M402 162 Q388 200 418 268 L436 302"/>
<!-- part 16 -->
<path class="p" d="M540 590 L575 600 L572 630 L548 640 L530 625 Z"/>
<path class="p" d="M428 490 Q430 440 480 430 L560 445 Q620 465 625 530 Q615 590 570 600 L490 585 Q430 560 428 490 Z"/>
<path class="o" d="M512 438 Q468 500 505 585 M560 490 Q535 545 565 598"/>
</g>
<g id="h440" transform="translate(407.6,343.7) scale(0.079258)">
<path class="p" d="M155 310 Q155 285 178 278 L215 235 L345 140 L415 100 L500 150 L548 232 L580 290 L575 350 L430 455 L382 470 L335 432 L292 470 L265 452 L268 395 L165 370 Z"/>
<path class="o" d="M215 235 L300 285 L440 212 L372 165 L345 140 M300 285 L305 345 L178 292 M305 345 L462 268 L460 212 M440 345 L575 290 M395 315 L380 400 L430 455 M395 315 L440 345 L432 400 M268 395 L305 345 M250 262 L385 188"/>
</g>
<g id="center2" transform="translate(440,360) scale(0.21136)">
<!-- ribbons -->
<path class="t" d="M0 200 Q60 190 110 160 M0 212 Q60 200 112 172 M0 224 Q60 212 115 184 M0 236 Q60 226 118 196 M0 190 Q50 175 100 150"/>
<path class="o" d="M0 222 Q70 250 150 320 Q230 350 325 338 M0 236 Q70 262 150 332 Q230 362 328 350 M0 250 Q70 276 150 345 Q230 372 332 362 M10 268 Q70 290 150 358 Q230 385 340 372 M0 208 Q80 238 160 308 Q230 335 322 326"/>
<!-- connector A -->
<path class="p" d="M85 130 L150 90 Q165 84 176 95 L215 145 L218 200 L130 238 L105 215 L100 175 L80 155 Z"/>
<path class="o" d="M100 175 L165 140 L150 90 M165 140 L215 145 M110 140 L125 165 L120 205 M125 165 L178 138 M130 238 L128 205 L190 175 L218 200 M190 175 L185 150"/>
<!-- connector B -->
<path class="p" d="M215 258 L235 238 L270 242 L330 198 Q345 190 360 200 L450 262 Q468 275 462 300 L455 320 L362 378 L330 372 L325 350 L240 296 L220 286 Z"/>
<path class="o" d="M270 242 L345 292 L424 244 M345 292 L340 350 L362 378 M290 238 L340 205 L385 235 L335 268 Z M335 268 L380 298 L430 265 L385 235 M235 238 L250 262 L240 296 M250 262 L330 315"/>
<ellipse class="o" cx="365" cy="318" rx="14" ry="12"/>
<!-- connector C small -->
<path class="t" d="M452 440 L595 528 M448 462 L590 540 M470 435 L598 522"/>
<path class="p" d="M358 430 L375 400 L420 378 Q432 374 442 382 L465 400 L478 425 L520 445 L515 470 L470 458 L448 490 L420 482 L400 470 L360 465 Z"/>
<path class="o" d="M375 400 L388 420 L384 462 M388 420 L430 398 L442 382 M430 398 L445 425 L478 425 M445 425 L440 460 L448 490 M405 415 L418 432 L416 448"/>
</g>
<g id="center3">
<g transform="translate(528.39,354.76) scale(0.20079199999999997) ">
<path class="t" d="M292 245 L312 322 M306 268 L320 322 M330 272 L330 322 M362 262 L340 322 M320 262 L325 322 M345 262 L335 322"/>
<path class="p" d="M262 72 Q262 56 280 60 L375 88 Q392 95 393 112 L397 160 Q397 172 385 172 L382 195 L378 270 L345 262 L343 282 L312 274 L310 252 L282 242 L275 160 L268 150 Q262 145 262 130 Z"/>
<path class="o" d="M268 78 Q268 64 282 66 L372 93 Q386 98 386 112 Q386 128 366 126 L285 104 Q268 98 268 88 Z M275 160 L382 195 M282 182 L282 240 M312 192 L312 272 M345 202 L345 262"/>
<path class="o" d="M285 78 L303 83 L303 98 L285 93 Z M315 88 L335 94 L335 110 L315 104 Z M347 97 L367 103 L367 120 L347 114 Z M300 108 L300 130 L330 140 L330 118 M385 172 L393 120"/>
</g>
<g transform="translate(485.4,471.6) scale(0.16667)">
<path class="p" d="M68 120 Q70 105 85 98 L225 35 Q255 28 275 50 Q282 60 280 85 L280 215 Q278 232 260 240 L130 300 Q100 312 80 300 Q68 290 68 270 Z"/>
<path class="o" d="M68 125 Q100 165 140 145 L262 90 Q282 80 280 60 M145 135 L240 95 M145 128 L145 145"/>
<path class="o" d="M160 172 L215 148 L235 140 L235 228 L185 250 L160 258 Z M172 175 L172 250 M185 170 L185 250 M215 150 L215 235 M225 148 L225 230"/>
</g>
</g>
<g id="rb-conn" transform="translate(585,520) scale(0.10568)">
<!-- round connector -->
<path class="p" d="M80 830 Q85 805 140 780 L325 740 Q390 745 405 775 L400 940 Q370 1000 300 1030 Q200 1070 130 1030 Q80 1000 80 950 Z"/>
<path class="o" d="M85 845 Q170 905 262 870 M310 815 Q370 800 400 775 M105 935 L150 920 L160 1000 L120 1015 Z M120 960 L155 975 M265 915 L300 900 L300 1010 L265 1025 Z M318 895 L345 885 L345 985 L318 1000 Z M318 945 L345 935 M185 960 L190 1020"/>
<path class="t" d="M232 462 L175 620 M240 462 L215 650 M248 462 L268 600 M255 462 L315 560"/>
<path class="p" d="M135 640 L165 610 L215 650 L250 600 L268 600 L320 560 L325 740 L282 790 L215 832 L165 812 L140 762 Z"/>
<path class="o" d="M165 612 L165 810 M215 650 L215 830 M250 602 L250 800 M282 600 L282 788 M300 580 L300 770"/>
<!-- small connector -->
<path class="t" d="M505 335 L470 425 M512 335 L490 450 M520 335 L545 392 M516 335 L520 400"/>
<path class="p" d="M430 450 Q440 425 470 420 L490 450 L520 400 L545 390 L580 395 L610 430 L608 660 L590 722 L490 782 L450 770 L440 700 Z"/>
<path class="o" d="M545 392 L545 722 M470 540 L470 650 M520 402 L520 470 L545 480 M440 700 L490 725 L590 670 M490 725 L490 780 M565 510 L565 540 L580 535 M470 735 L470 760"/>
</g>
<g id="h445" transform="translate(420,240) scale(0.079258)">
<path class="t" d="M190 380 L75 440 M230 395 L110 468 M262 425 L135 500 M210 388 L92 455"/>
<path class="p" d="M155 310 Q155 285 178 278 L215 235 L345 140 L415 100 L500 150 L548 232 L580 290 L575 350 L430 455 L382 470 L335 432 L292 470 L265 452 L268 395 L165 370 Z"/>
<path class="o" d="M215 235 L300 285 L440 212 L372 165 L345 140 M300 285 L305 345 L178 292 M305 345 L462 268 L460 212 M440 345 L575 290 M395 315 L380 400 L430 455 M395 315 L440 345 L432 400 M268 395 L305 345 M250 262 L385 188"/>
</g>
<g id="ties" transform="translate(600,55) scale(0.20739)">
<!-- 19 -->
<path class="p" d="M135 118 L135 520 Q138 542 152 542 Q168 540 170 520 L170 118 Z"/>
<path class="t" d="M152 125 L152 300 M152 320 L152 520 M140 135 H152 M140 148 H152 M140 161 H152 M140 174 H152 M140 187 H152 M140 200 H152 M140 213 H152 M140 226 H152 M152 330 H164 M152 343 H164 M152 356 H164 M152 369 H164 M152 382 H164 M152 395 H164 M152 408 H164"/>
<path class="p" d="M110 78 L135 65 L170 70 L176 85 L176 118 L150 125 L112 108 Z"/>
<path class="o" d="M110 78 L150 90 L176 85 M150 90 L150 125 M125 85 L125 100 L140 105"/>
<!-- 20 -->
<path class="p" d="M335 130 L335 500 L345 570 L355 570 L368 500 L372 120 Z"/>
<path class="t" d="M352 140 L352 560 M340 240 H352 M340 253 H352 M340 266 H352 M340 279 H352 M340 292 H352 M340 305 H352 M340 318 H352 M340 331 H352 M340 344 H352 M340 357 H352 M340 370 H352 M340 383 H352 M340 396 H352 M340 409 H352 M340 422 H352 M340 435 H352 M340 448 H352 M340 461 H352 M340 474 H352 M340 487 H352 M340 500 H352"/>
<path class="p" d="M295 80 L330 62 L368 75 L372 125 L335 135 L298 120 Z"/>
<path class="o" d="M295 80 L335 95 L368 78 M335 95 L335 135"/>
<!-- 25 -->
<path class="p" d="M625 100 Q560 120 555 190 L552 690 L568 735 L578 735 L590 690 L592 200 Q595 150 650 130 Z"/>
<path class="t" d="M572 725 L572 200 Q575 150 640 118 M560 260 H572 M560 273 H572 M560 286 H572 M560 299 H572 M560 312 H572 M560 325 H572 M560 338 H572 M560 351 H572 M560 364 H572 M560 377 H572 M560 390 H572 M560 403 H572 M560 416 H572 M560 429 H572 M572 520 H586 M572 533 H586 M572 546 H586 M572 559 H586 M572 572 H586 M572 585 H586 M572 598 H586 M572 611 H586 M572 624 H586 M572 637 H586 M572 650 H586 M572 663 H586"/>
<path class="p" d="M610 92 L650 68 L682 80 L688 110 L650 135 L615 120 Z"/>
<path class="o" d="M610 92 L645 105 L682 82 M645 105 L650 135 M625 98 L628 120"/>
</g>
<g id="p22-bolt" transform="translate(655,330) scale(0.13475)">
<path class="p" d="M160 220 Q165 198 188 200 L280 250 Q298 262 298 285 L298 465 L268 492 L250 502 L215 745 Q210 760 190 755 L100 705 Q88 695 92 680 L135 450 L158 430 Z"/>
<path class="o" d="M158 430 L250 502 M135 452 L240 530 M268 400 L268 492 M268 400 L298 380 M205 742 L240 545"/>
<path class="o" d="M238 300 Q215 270 195 295 Q185 330 225 345 Q245 335 238 300 M215 300 Q235 310 230 340"/>
<path class="o" d="M128 628 L172 648 L188 700 L145 682 Z M145 640 L160 690"/>
<!-- bolt -->
<path class="p" d="M520 100 L378 172 Q352 192 362 225 Q378 252 408 245 L548 185 Z"/>
<path class="t" d="M398 165 Q378 200 408 245 M420 153 Q400 190 430 236 M442 142 Q422 180 452 227 M464 131 Q444 170 474 218 M486 120 Q466 160 496 208 M508 108 Q488 150 518 198"/>
<ellipse class="p" cx="520" cy="135" rx="42" ry="78" transform="rotate(-18 520 135)"/>
<path class="p" d="M518 70 L548 52 Q575 45 592 62 L614 112 L606 165 L584 200 Q565 215 545 205 L528 200 Q505 130 518 70 Z"/>
<ellipse class="o" cx="572" cy="130" rx="36" ry="72" transform="rotate(-14 572 130)"/>
<path class="o" d="M528 200 Q515 140 530 62"/>
</g>
<g id="p23r-bolt" transform="translate(655,440) scale(0.13475)">
<path class="p" d="M100 350 Q100 316 135 318 L300 400 L300 440 L262 462 L240 470 L240 548 L120 482 Q100 470 100 440 Z"/>
<path class="p" d="M235 478 L262 462 L300 478 L390 535 Q412 552 412 580 L410 680 Q400 708 370 700 L235 622 Z"/>
<path class="o" d="M245 385 L300 402 L245 440 L300 440 M385 600 L385 700 M112 340 L235 405"/>
<ellipse class="o" cx="165" cy="430" rx="32" ry="44" transform="rotate(-30 165 430)"/>
<path class="t" d="M150 395 Q185 420 190 465"/>
<ellipse class="o" cx="310" cy="595" rx="35" ry="44" transform="rotate(-30 310 595)"/>
<path class="t" d="M295 560 Q330 585 335 630"/>
<!-- bolt -->
<path class="p" d="M630 372 L512 432 Q485 455 498 490 Q512 512 538 500 L655 440 Z"/>
<path class="t" d="M528 424 Q508 455 538 500 M548 414 Q528 445 558 490 M568 404 Q548 435 578 480 M588 394 Q568 425 598 470 M608 384 Q588 415 618 460"/>
<ellipse class="p" cx="632" cy="395" rx="36" ry="64" transform="rotate(-18 632 395)"/>
<path class="p" d="M632 338 L655 322 Q690 312 712 332 L735 375 L728 420 L702 450 Q682 462 662 452 L640 448 Q618 395 632 338 Z"/>
<ellipse class="o" cx="690" cy="388" rx="32" ry="60" transform="rotate(-14 690 388)"/>
<path class="o" d="M640 448 Q628 400 642 332"/>
</g>
<g id="p18-17" transform="translate(650,625) scale(0.10568)">
<ellipse class="p" cx="342" cy="585" rx="48" ry="70" transform="rotate(28 342 585)"/>
<ellipse class="o" cx="345" cy="588" rx="22" ry="34" transform="rotate(28 345 588)"/>
<path class="t" d="M330 565 Q355 580 350 615"/>
<path class="p" d="M400 640 L430 598 Q460 575 492 582 L538 618 Q548 650 545 682 L512 728 Q480 745 452 735 L410 700 Q398 670 400 640 Z"/>
<path class="o" d="M430 598 Q445 640 440 690 L452 735 M440 690 L410 700"/>
<ellipse class="o" cx="492" cy="662" rx="38" ry="56" transform="rotate(20 492 662)"/>
<ellipse class="o" cx="492" cy="665" rx="22" ry="34" transform="rotate(20 492 665)"/>
</g>
<g id="p24-23-ll" transform="translate(5,790) scale(0.14531)">
<!-- bolt shaft -->
<path class="p" d="M100 395 Q98 368 125 352 L160 342 Q200 345 215 370 L185 470 Q160 490 135 478 L105 440 Z"/>
<ellipse class="p" cx="182" cy="418" rx="40" ry="70" transform="rotate(-22 182 418)"/>
<path class="p" d="M190 388 L300 450 Q325 468 318 495 Q305 520 278 512 L165 452 Z"/>
<path class="t" d="M215 402 Q235 440 195 468 M235 413 Q255 450 215 478 M255 424 Q275 462 235 489 M275 435 Q295 472 255 500 M295 447 Q315 485 275 510"/>
<path class="o" d="M125 352 Q135 420 135 478"/>
<!-- bracket -->
<path class="p" d="M345 582 L470 496 Q510 484 535 510 Q546 530 540 612 Q538 632 520 646 L420 706 L420 640 L400 625 L345 625 Z"/>
<path class="p" d="M245 725 Q245 700 265 690 L400 625 L416 640 L416 782 L290 846 Q258 852 245 825 Z"/>
<path class="o" d="M365 588 L415 572 L365 608 L416 640 M268 750 L268 835 M358 575 L480 500"/>
<ellipse class="o" cx="475" cy="596" rx="28" ry="44" transform="rotate(32 475 596)"/>
<path class="t" d="M490 560 Q465 590 462 632"/>
<ellipse class="o" cx="340" cy="746" rx="28" ry="44" transform="rotate(32 340 746)"/>
<path class="t" d="M355 710 Q330 740 327 782"/>
</g>
<g id="p23-lr" transform="translate(522.8,869.3) scale(0.14531)">
<!-- bracket -->
<path class="p" d="M345 582 L470 496 Q510 484 535 510 Q546 530 540 612 Q538 632 520 646 L420 706 L420 640 L400 625 L345 625 Z"/>
<path class="p" d="M245 725 Q245 700 265 690 L400 625 L416 640 L416 782 L290 846 Q258 852 245 825 Z"/>
<path class="o" d="M365 588 L415 572 L365 608 L416 640 M268 750 L268 835 M358 575 L480 500"/>
<ellipse class="o" cx="475" cy="596" rx="28" ry="44" transform="rotate(32 475 596)"/>
<path class="t" d="M490 560 Q465 590 462 632"/>
<ellipse class="o" cx="340" cy="746" rx="28" ry="44" transform="rotate(32 340 746)"/>
<path class="t" d="M355 710 Q330 740 327 782"/>
</g>
<g id="p24-lr" transform="translate(545,925) scale(0.17173)">
<path class="p" d="M258 345 Q232 350 235 375 Q240 396 262 402 L345 452 L372 402 Z"/>
<path class="t" d="M278 352 Q255 375 280 412 M296 362 Q273 385 298 422 M314 372 Q291 395 316 432 M332 382 Q309 405 334 442 M350 392 Q327 415 352 452"/>
<ellipse class="p" cx="352" cy="428" rx="30" ry="56" transform="rotate(-28 352 428)"/>
<path class="p" d="M335 400 Q345 378 375 375 L410 392 Q428 415 425 450 L405 482 Q380 495 352 485 L332 465 Q322 430 335 400 Z"/>
<circle class="o" cx="386" cy="438" r="36"/>
<path class="o" d="M352 440 H372 M372 415 V440"/>
</g>
<g id="p1">
<path class="wo" style="stroke-width:5.4" d="M166.0 934.0 C167.6 936.3 172.3 943.2 175.7 948.0 C179.1 952.8 184.4 960.2 186.2 962.6"/>
<path class="wo" style="stroke-width:5.4" d="M133.0 972.5 C135.7 973.1 143.1 976.4 149.3 975.9 C155.5 975.4 164.2 970.9 170.4 969.3 C176.6 967.7 183.6 967.0 186.2 966.5"/>
<path class="wi" style="stroke-width:2.8" d="M166.0 934.0 C167.6 936.3 172.3 943.2 175.7 948.0 C179.1 952.8 184.4 960.2 186.2 962.6"/>
<path class="wi" style="stroke-width:2.8" d="M133.0 972.5 C135.7 973.1 143.1 976.4 149.3 975.9 C155.5 975.4 164.2 970.9 170.4 969.3 C176.6 967.7 183.6 967.0 186.2 966.5"/>
<path class="wo" style="stroke-width:5.4" d="M317.7 1023.4 C320.6 1024.7 328.3 1028.8 335.0 1031.3 C341.7 1033.8 354.2 1037.3 358.0 1038.5"/>
<path class="wo" style="stroke-width:5.4" d="M316.0 1026.0 C317.6 1028.7 325.3 1036.0 325.6 1042.4 C325.9 1048.8 318.6 1058.3 317.7 1064.6 C316.8 1070.9 319.6 1077.4 320.0 1080.0"/>
<path class="wi" style="stroke-width:2.8" d="M317.7 1023.4 C320.6 1024.7 328.3 1028.8 335.0 1031.3 C341.7 1033.8 354.2 1037.3 358.0 1038.5"/>
<path class="wi" style="stroke-width:2.8" d="M316.0 1026.0 C317.6 1028.7 325.3 1036.0 325.6 1042.4 C325.9 1048.8 318.6 1058.3 317.7 1064.6 C316.8 1070.9 319.6 1077.4 320.0 1080.0"/>
<path class="wo" style="stroke-width:16" d="M187.0 964.5 C190.4 966.2 200.5 971.1 207.4 974.5 C214.3 977.9 221.3 981.6 228.5 985.0 C235.7 988.4 246.8 993.3 250.5 995.0"/><path class="wi" style="stroke-width:13.4" d="M187.0 964.5 C190.4 966.2 200.5 971.1 207.4 974.5 C214.3 977.9 221.3 981.6 228.5 985.0 C235.7 988.4 246.8 993.3 250.5 995.0"/>
<ellipse class="p" cx="187.3" cy="964.6" rx="2.8" ry="6.9" transform="rotate(26 187.3 964.6)" style="stroke-width:1.2"/>
<path class="wo" style="stroke-width:16" d="M256.0 998.0 C261.3 999.6 277.3 1003.1 287.6 1007.6 C297.9 1012.1 312.7 1022.1 317.7 1025.0"/><path class="wi" style="stroke-width:13.4" d="M256.0 998.0 C261.3 999.6 277.3 1003.1 287.6 1007.6 C297.9 1012.1 312.7 1022.1 317.7 1025.0"/>
</g>
<g id="p1-left" transform="translate(70,890) scale(0.2642)">
<path class="p" d="M245 100 Q248 64 295 65 Q342 70 340 120 L330 178 Q300 200 262 186 Q240 170 245 100 Z"/>
<path class="p" d="M312 140 L362 160 Q372 172 360 188 L305 170 Q300 152 312 140 Z"/>
<path class="o" d="M352 158 Q345 170 352 184"/>
<path class="p" d="M62 202 L100 180 L195 215 L200 248 L168 300 L130 316 L62 282 Z"/>
<path class="o" d="M62 202 L150 242 L195 215 M150 242 L160 300"/>
<path class="p" d="M165 252 L240 292 Q250 305 238 322 L160 292 Q155 268 165 252 Z"/>
<path class="o" d="M225 286 Q218 300 225 316"/>
<path class="p" d="M668 368 Q680 378 678 395 Q690 405 672 425 Q655 400 668 368 Z" style="stroke-width:1.2"/>
<path class="p" d="M712 382 Q695 395 705 410 Q692 425 705 440 Q722 420 712 382 Z" style="stroke-width:1.2"/>
<!-- nut 2 -->
<ellipse class="p" cx="680" cy="642" rx="40" ry="18"/>
<path class="p" d="M655 640 L655 612 Q680 595 705 612 L705 640 Q680 655 655 640 Z"/>
<ellipse class="o" cx="680" cy="612" rx="16" ry="7"/>
</g>
<g id="p1-right" transform="translate(240,960) scale(0.31706)">
<ellipse class="p" cx="246" cy="205" rx="9" ry="24" transform="rotate(-32 246 205)"/>
<path class="p" d="M372 240 L402 256 L396 280 L366 262 Z"/>
<path class="p" d="M400 262 L445 238 L505 268 Q516 275 513 292 L510 336 L486 356 L400 320 Z"/>
<path class="o" d="M400 262 L425 285 Q470 312 513 285"/>
<path class="p" d="M258 372 L290 392 L282 415 L252 395 Z"/>
<path class="p" d="M285 398 L335 375 L390 405 Q401 412 398 428 L395 472 L370 492 L285 455 Z"/>
<path class="o" d="M285 398 L310 420 Q355 448 398 420"/>
</g>
<g id="fwd">
<g transform="translate(15,1000) scale(0.11889)">
<path class="k" d="M105 465 L250 222 L268 232 L290 258 L575 92 L605 108 L605 310 L290 482 L280 555 Z"/>
<path d="M296 268 L578 102 L596 113 L306 284 Z" fill="#fff"/>
<path d="M118 462 L253 232 L268 242 L136 470 Z" fill="#fff"/>
</g>
<text transform="matrix(0.72,-0.39,0.07,1,50,1053.4)" style="font-family:'Liberation Sans',sans-serif;font-size:20.8px;font-weight:700;fill:#161616;stroke:#fff;stroke-width:1.9px;paint-order:stroke fill;letter-spacing:.6px">FWD</text>
</g>
<g id="misc">
<path class="l" style="stroke-width:1.1" stroke-dasharray="263 2.7 4.6 3.6 400" d="M290.7 457 L655.8 668.6"/>
<path class="l" style="stroke-width:1.1" d="M662.7 672.6 L680.1 682.6"/>
<path class="t" style="stroke-width:1.05" d="M404.8 632.9 L406.1 640.0 M406.6 631.9 L407.9 639.0 M408.3 630.9 L409.6 638.0 M410.1 629.9 L411.3 637.0 M411.8 629.0 L413.1 636.0 M413.5 628.0 L414.8 635.1 M415.3 627.0 L416.6 634.1 M417.0 626.0 L418.3 633.1 M418.8 625.0 L420.0 632.1 M420.5 624.0 L421.8 631.1 M422.2 623.1 L423.5 630.1 M424.0 622.1 L425.3 629.2 M425.7 621.1 L427.0 628.2 M427.5 620.1 L428.7 627.2 M429.2 619.1 L430.5 626.2 M430.9 618.1 L432.2 625.2 M432.7 617.1 L434.0 624.2 M434.4 616.2 L435.7 623.3 M436.2 615.2 L437.4 622.3 M437.9 614.2 L439.2 621.3"/>
<path class="t" style="stroke-width:1.05" d="M368.3 653.6 L369.6 660.6 M370.0 652.6 L371.3 659.7 M371.8 651.6 L373.1 658.7 M373.5 650.6 L374.8 657.7 M375.3 649.6 L376.5 656.7 M377.0 648.6 L378.3 655.7 M378.7 647.7 L380.0 654.7 M380.5 646.7 L381.8 653.8 M382.2 645.7 L383.5 652.8 M384.0 644.7 L385.2 651.8 M385.7 643.7 L387.0 650.8 M387.4 642.7 L388.7 649.8 M389.2 641.7 L390.5 648.8 M390.9 640.8 L392.2 647.9 M392.7 639.8 L393.9 646.9"/>
<path class="t" d="M378.7 619.9 L380.5 630 M383.3 623.6 L385.2 634.6 M388.9 628.7 L389.8 637.9 M394.4 633.3 L395.3 641.6"/>
</g>
<g id="labels">
<text class="n" x="136.8" y="59.7">24</text>
<line class="l" x1="159" y1="53.7" x2="203" y2="53.7"/>
<text class="n" x="107.7" y="92.5">21</text>
<line class="l" x1="129" y1="85.7" x2="174" y2="85.7"/>
<text class="n" x="252.5" y="56">3</text>
<line class="l" x1="256.5" y1="59" x2="256.5" y2="97"/>
<text class="n" x="242.3" y="137">6</text>
<line class="l" x1="247" y1="138.7" x2="247" y2="155"/>
<text class="n" x="202.6" y="154.4">7</text>
<line class="l" style="stroke:#8c8c8c;stroke-width:1.1" x1="207.4" y1="157" x2="207.4" y2="202"/>
<text class="n" x="274.7" y="152.7">9</text>
<line class="l" x1="279.7" y1="155" x2="279.7" y2="175"/>
<text class="n" x="180" y="280.7">8</text>
<line class="l" x1="191.7" y1="274.3" x2="213.3" y2="274.3"/>
<text class="n" x="129.3" y="295">5</text>
<line class="l" x1="133.3" y1="297.7" x2="133.3" y2="323.3"/>
<text class="n" x="197.4" y="310.6">10</text>
<line class="l" x1="220" y1="305.1" x2="250" y2="305.1"/>
<text class="n" x="179.7" y="338.8">11</text>
<line class="l" x1="199.3" y1="333.5" x2="219.1" y2="333.5"/>
<text class="n" x="189.2" y="371.8">12</text>
<line class="l" x1="239.7" y1="366.5" x2="256" y2="366.5"/>
<text class="n" x="210.8" y="371.8">·</text>
<text class="n" x="217.6" y="371.8">13</text>
<text class="n" x="325.2" y="299.6">14</text>
<line class="l" x1="299.6" y1="293.8" x2="324.3" y2="293.8"/>
<text class="n" x="325.2" y="348.3">15</text>
<line class="l" x1="303.2" y1="343.2" x2="324" y2="343.2"/>
<text class="n" x="483" y="464">16</text>
<line class="l" x1="470" y1="457.7" x2="481" y2="457.7"/>
<text class="n" x="500.5" y="685">4</text>
<line class="l" x1="463.5" y1="678.6" x2="494.5" y2="678.6"/>
<text class="n" x="623.3" y="42.7">19</text>
<line class="l" x1="630.8" y1="45" x2="630.8" y2="66.7"/>
<text class="n" x="661" y="42.7">20</text>
<line class="l" x1="669.7" y1="45" x2="669.7" y2="66.7"/>
<text class="n" x="719.6" y="42.7">25</text>
<line class="l" x1="730" y1="45" x2="730" y2="68"/>
<text class="n" x="724.6" y="310.7">24</text>
<line class="l" x1="734" y1="314" x2="734" y2="337.6"/>
<text class="n" x="677" y="330.9">22</text>
<line class="l" x1="686.5" y1="333" x2="686.5" y2="357.6"/>
<text class="n" x="680.8" y="460.6">23</text>
<line class="l" x1="688.7" y1="464.3" x2="688.7" y2="488.5"/>
<text class="n" x="736.3" y="454.9">24</text>
<line class="l" x1="746.6" y1="457.5" x2="746.6" y2="483"/>
<text class="n" x="677.3" y="647.8">18</text>
<line class="l" x1="686.8" y1="650.4" x2="686.8" y2="680"/>
<text class="n" x="692.6" y="667.9">17</text>
<line class="l" x1="702.6" y1="670" x2="702.6" y2="686.8"/>
<text class="n" x="22" y="810.7">24</text>
<line class="l" x1="32.3" y1="814.4" x2="32.3" y2="840.9"/>
<text class="n" x="48.1" y="950.7">23</text>
<line class="l" x1="56.1" y1="909" x2="56.1" y2="934"/>
<text class="n" x="234" y="1040.6">1</text>
<line class="l" x1="237.8" y1="1002.3" x2="237.8" y2="1024.7"/>
<text class="n" x="196.3" y="1064.5">2</text>
<line class="l" x1="207.9" y1="1059.1" x2="239" y2="1059.1"/>
<text class="n" x="628.6" y="956">23</text>
<line class="l" x1="601.3" y1="951.6" x2="625.7" y2="951.6"/>
<text class="n" x="645.8" y="1005">24</text>
<line class="l" x1="618" y1="999.7" x2="643.7" y2="999.7"/>
</g>
<g id="titles">
<text class="fig" transform="translate(1.2,27.7) scale(1.15,1)">FIG.322A</text>
<text class="ft" x="2.7" y="1167.3" textLength="145.6" lengthAdjust="spacingAndGlyphs">DF60A_E03_016_322A</text>
<text class="ft" x="1.7" y="1190" textLength="59" lengthAdjust="spacingAndGlyphs">HARNESS</text>
<text class="wmd" transform="translate(265.2,948.0) rotate(-23)" textLength="132" lengthAdjust="spacingAndGlyphs">© Partzilla.com</text>
</g>
</svg>
</body>
</html>
